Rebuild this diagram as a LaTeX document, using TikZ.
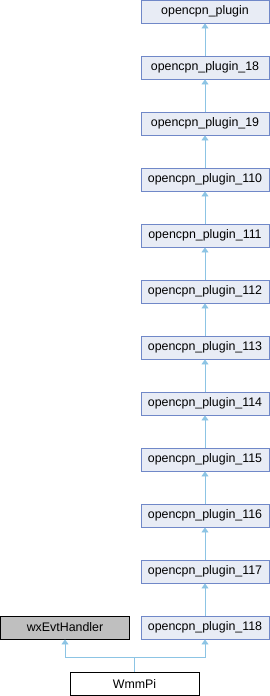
\documentclass[tikz,border=0pt]{standalone}
\usepackage{fontspec}
\setmainfont{Liberation Sans}
\usetikzlibrary{arrows.meta}
\definecolor{boxfill}{HTML}{E8ECF5}
\definecolor{boxline}{HTML}{7088C8}
\definecolor{edgecol}{HTML}{8CC4E4}
\definecolor{grayfill}{HTML}{BFBFBF}
\tikzset{
  cls/.style={draw=boxline, fill=boxfill, line width=0.9pt, minimum width=128pt, minimum height=23pt, inner sep=0pt, font=\fontsize{12.4pt}{14pt}\selectfont},
  extcls/.style={cls, draw=black, fill=grayfill, minimum width=129.5pt},
  leaf/.style={cls, draw=black, fill=white, minimum width=129pt},
  inh/.style={draw=edgecol, line width=0.9pt, -{Triangle[width=7pt,length=5pt]}},
}
\begin{document}
\begin{tikzpicture}[x=1pt,y=-1pt]
\useasboundingbox (0,0) rectangle (270,696);
\node[cls] (p0) at (205,11.5) {opencpn\_plugin};
\node[cls] (p1) at (205,67.5) {opencpn\_plugin\_18};
\node[cls] (p2) at (205,123.5) {opencpn\_plugin\_19};
\node[cls] (p3) at (205,179.5) {opencpn\_plugin\_110};
\node[cls] (p4) at (205,235.5) {opencpn\_plugin\_111};
\node[cls] (p5) at (205,291.5) {opencpn\_plugin\_112};
\node[cls] (p6) at (205,347.5) {opencpn\_plugin\_113};
\node[cls] (p7) at (205,403.5) {opencpn\_plugin\_114};
\node[cls] (p8) at (205,459.5) {opencpn\_plugin\_115};
\node[cls] (p9) at (205,515.5) {opencpn\_plugin\_116};
\node[cls] (p10) at (205,571.5) {opencpn\_plugin\_117};
\node[cls] (p11) at (205,627.5) {opencpn\_plugin\_118};
\node[extcls] (wx) at (65,627.5) {wxEvtHandler};
\node[leaf] (wmm) at (134.5,684) {WmmPi};
\foreach \a/\b in {p1/p0,p2/p1,p3/p2,p4/p3,p5/p4,p6/p5,p7/p6,p8/p7,p9/p8,p10/p9,p11/p10}
  \draw[inh] (\a.north) -- (\b.south);
\coordinate (j) at (134.5,657);
\draw[inh] (wmm.north) -- (j) -| (wx.south);
\draw[inh] (j) -| (p11.south);
\end{tikzpicture}
\end{document}
